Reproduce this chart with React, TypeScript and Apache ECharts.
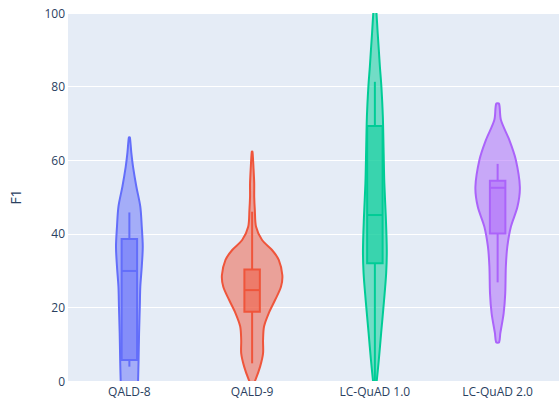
import React, { useEffect, useRef } from "react";
import * as echarts from "echarts";

// Categories and colours
const categories = ["QALD-8", "QALD-9", "LC-QuAD 1.0", "LC-QuAD 2.0"];
const colors = ["#636efa", "#EF553B", "#00cc96", "#ab63fa"];

// Y axis
const yMin = 0;
const yMax = 100;
const yInterval = 20;

// Violin outlines: F1 levels and half-widths (in % of category band)
const qald8Levels = [66.2, 62, 58.2, 52.8, 47.4, 41.9, 36.5, 31.1, 25.6, 20.2, 13, 5.7, 0.3, -5];
const qald8Widths = [0.4, 1.6, 3.0, 5.7, 8.9, 10.1, 10.9, 10.1, 8.9, 8.5, 7.9, 7.5, 7.1, 6.5];

const qald9Levels = [62.3, 58, 53.7, 50, 46.5, 41.9, 38.3, 35.6, 32.9, 28.8, 25.6, 22, 18.4, 14.8, 11.1, 7.5, 3.9, 0.3, -1.5];
const qald9Widths = [0.3, 1.1, 1.7, 1.7, 2.2, 3.2, 8.1, 16.2, 21.7, 24.6, 23.5, 18.7, 13.5, 9.7, 8.9, 8.9, 6.5, 2.7, 0];

const lc1Levels = [106, 100, 94.5, 90, 85.4, 80, 71.8, 62.8, 53.8, 44.6, 35.6, 29.3, 22, 13, 5.7, 0.3, -2, -4];
const lc1Widths = [0, 1.3, 2.3, 3.2, 4.1, 5.3, 6.5, 7.1, 7.7, 8.9, 9.7, 9.2, 7.5, 5.1, 3.2, 1.6, 0.8, 0];

const lc2Levels = [75.3, 70.9, 65.5, 60.1, 52.8, 47.4, 41.9, 36.5, 31.1, 23.8, 18.4, 13, 10.5];
const lc2Widths = [1.2, 2.7, 9.5, 14.8, 18.1, 16.2, 10.8, 7.9, 6.7, 6.2, 4.9, 2.2, 1.2];

const violinLevels = [qald8Levels, qald9Levels, lc1Levels, lc2Levels];
const violinWidths = [qald8Widths, qald9Widths, lc1Widths, lc2Widths];

// Inner box statistics
const whiskerLow = [3.9, 4.8, 0, 26.8];
const q1 = [5.7, 18.8, 32, 40.1];
const median = [29.9, 24.7, 45.1, 52.5];
const q3 = [38.6, 30.3, 69.3, 54.4];
const whiskerHigh = [45.8, 46.0, 81.3, 59];

const boxHalfWidthPct = 6.3;

function rgba(hex: string, a: number) {
  const h = hex.replace("#", "");
  const r = parseInt(h.slice(0, 2), 16);
  const g = parseInt(h.slice(2, 4), 16);
  const b = parseInt(h.slice(4, 6), 16);
  return `rgba(${r},${g},${b},${a})`;
}

export default function App() {
  const ref = useRef<HTMLDivElement>(null);
  useEffect(() => {
    document.body.style.margin = "0";
    if (!ref.current) return;
    const chart = echarts.init(ref.current, null, { renderer: "svg" });
    const font = "'Open Sans', verdana, arial, sans-serif";
    const renderItem = (params: any, api: any) => {
      const i = api.value(0);
      const band = api.size([1, 0])[0];
      const cx = api.coord([i, 0])[0];
      const col = colors[i];
      const levels = violinLevels[i];
      const widths = violinWidths[i];
      const right: number[][] = [];
      const left: number[][] = [];
      for (let k = 0; k < levels.length; k++) {
        const y = api.coord([i, levels[k]])[1];
        const w = (widths[k] / 100) * band;
        right.push([cx + w, y]);
        left.push([cx - w, y]);
      }
      const pts = right.concat(left.reverse());
      const bw = (boxHalfWidthPct / 100) * band;
      const yq1 = api.coord([i, q1[i]])[1];
      const yq3 = api.coord([i, q3[i]])[1];
      const ymed = api.coord([i, median[i]])[1];
      const ywl = api.coord([i, whiskerLow[i]])[1];
      const ywh = api.coord([i, whiskerHigh[i]])[1];
      return {
        type: "group",
        children: [
          {
            type: "polygon",
            shape: { points: pts, smooth: 0.3 },
            style: { fill: rgba(col, 0.5), stroke: col, lineWidth: 2, lineJoin: "round" },
          },
          {
            type: "line",
            shape: { x1: cx, y1: ywh, x2: cx, y2: yq3 },
            style: { stroke: col, lineWidth: 2 },
          },
          {
            type: "line",
            shape: { x1: cx, y1: yq1, x2: cx, y2: ywl },
            style: { stroke: col, lineWidth: 2 },
          },
          {
            type: "rect",
            shape: { x: cx - bw, y: yq3, width: 2 * bw, height: yq1 - yq3 },
            style: { fill: rgba(col, 0.5), stroke: col, lineWidth: 2 },
          },
          {
            type: "line",
            shape: { x1: cx - bw, y1: ymed, x2: cx + bw, y2: ymed },
            style: { stroke: col, lineWidth: 2 },
          },
        ],
      };
    };
    chart.setOption({
      animation: false,
      grid: {
        left: 68,
        top: 13,
        width: 493,
        height: 368,
        show: true,
        backgroundColor: "#E5ECF6",
        borderWidth: 0,
      },
      xAxis: {
        type: "category",
        data: categories,
        axisLine: { show: false },
        axisTick: { show: false },
        splitLine: { show: false },
        axisLabel: { color: "#2a3f5f", fontSize: 12, fontFamily: font, margin: 4 },
      },
      yAxis: {
        type: "value",
        min: yMin,
        max: yMax,
        interval: yInterval,
        name: "F1",
        nameLocation: "middle",
        nameRotate: 90,
        nameGap: 46,
        nameTextStyle: { color: "#2a3f5f", fontSize: 14, fontFamily: font },
        axisLine: { show: false },
        axisTick: { show: false },
        splitLine: { lineStyle: { color: "#ffffff", width: 1 } },
        axisLabel: { color: "#2a3f5f", fontSize: 12, fontFamily: font, margin: 3 },
      },
      series: [
        {
          type: "custom",
          clip: true,
          renderItem,
          encode: { x: 0, y: 1 },
          data: categories.map((_, i) => [i, median[i]]),
        },
      ],
    });
    return () => chart.dispose();
  }, []);
  return <div ref={ref} style={{ width: 559, height: 398 }} />;
}
